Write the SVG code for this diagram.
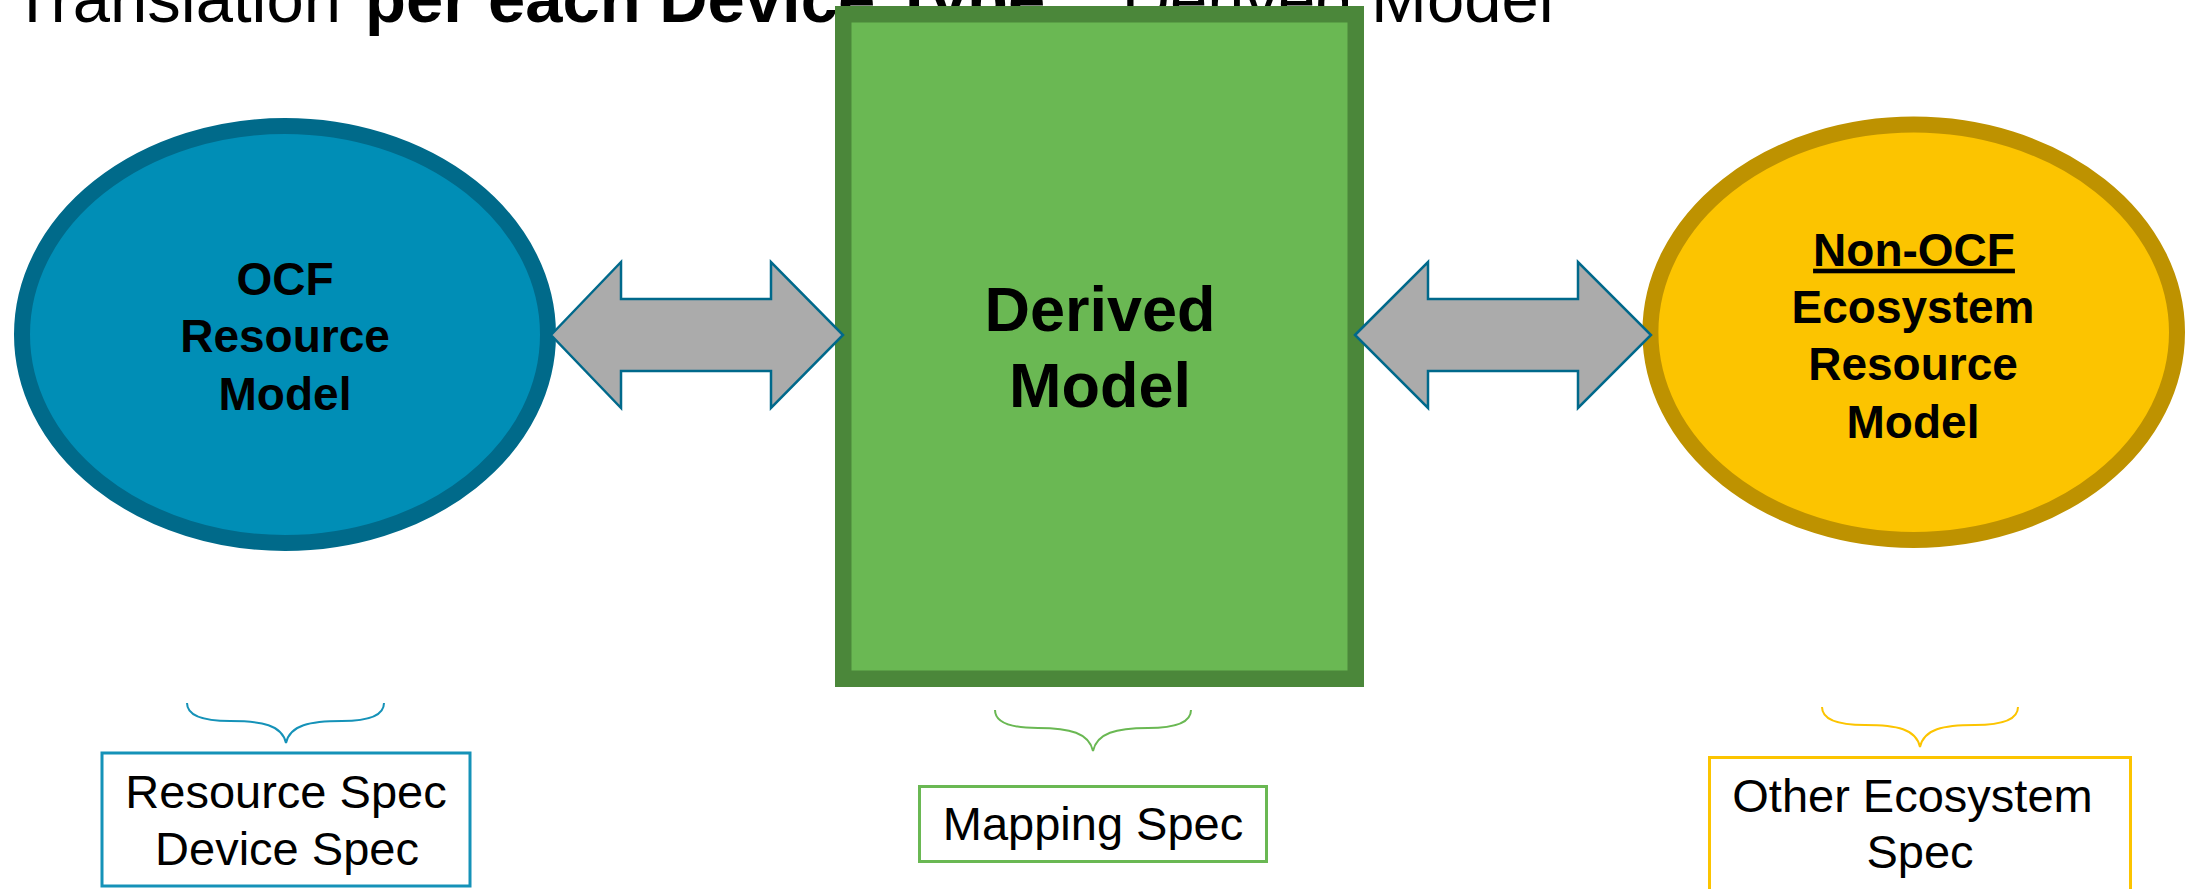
<svg xmlns="http://www.w3.org/2000/svg" width="2187" height="889" viewBox="0 0 2187 889">
  <style>
    .title { font-family: "Liberation Sans", Arial, sans-serif; font-size: 67px; fill: #000; }
    .b { font-weight: bold; }
    .node { font-family: "Liberation Sans", Arial, sans-serif; font-weight: bold; fill: #000; text-anchor: middle; }
    .spec { font-family: "Liberation Sans", Arial, sans-serif; font-size: 47px; fill: #000; text-anchor: middle; }
    .arrow { fill: #ABABAB; stroke: #00698B; stroke-width: 2.5; stroke-linejoin: miter; }
    .brace { fill: none; stroke-width: 2; }
  </style>
  <rect width="2187" height="889" fill="#FFFFFF"/>

  <g id="title">
    <text class="title" y="22"><tspan x="12">Translation </tspan><tspan class="b" x="365">per each Device Type</tspan><tspan> = Derived Model</tspan></text>
  </g>

  <g id="ocf-resource-model">
    <ellipse cx="285" cy="334.5" rx="263" ry="208.5" fill="#008EB6" stroke="#006A8A" stroke-width="16"/>
    <text class="node" font-size="46" x="285" y="295">OCF</text>
    <text class="node" font-size="46" x="285" y="352">Resource</text>
    <text class="node" font-size="46" x="285" y="410">Model</text>
  </g>

  <g id="derived-model">
    <rect x="843.25" y="14.25" width="512.5" height="664.5" fill="#6AB853" stroke="#4B873A" stroke-width="16.5"/>
    <text class="node" font-size="63" x="1100" y="331">Derived</text>
    <text class="node" font-size="63" x="1100" y="407">Model</text>
  </g>

  <g id="non-ocf-model">
    <ellipse cx="1913.7" cy="332.3" rx="263.3" ry="207.7" fill="#FCC400" stroke="#BE9200" stroke-width="16"/>
    <text class="node" font-size="46" x="1914" y="265.7" text-decoration="underline">Non-OCF</text>
    <text class="node" font-size="46" x="1913" y="322.7">Ecosystem</text>
    <text class="node" font-size="46" x="1913" y="380">Resource</text>
    <text class="node" font-size="46" x="1913" y="437.7">Model</text>
  </g>

  <g id="connectors">
    <polygon class="arrow" points="551,335 621,262 621,299 771,299 771,262 843,335 771,408 771,371 621,371 621,408"/>
    <polygon class="arrow" points="1355,335 1428,262 1428,299 1578,299 1578,262 1651,335 1578,408 1578,371 1428,371 1428,408"/>
  </g>

  <g id="resource-spec">
    <path class="brace" stroke="#1592B8" d="M187,703 C187,716 204,721 230,721 C262,721 282,725 286,743 C290,725 310,721 342,721 C368,721 384,716 384,703"/>
    <rect x="102" y="753" width="368" height="133" fill="#FFFFFF" stroke="#1592B8" stroke-width="3"/>
    <text class="spec" x="286" y="808">Resource Spec</text>
    <text class="spec" x="287" y="865">Device Spec</text>
  </g>

  <g id="mapping-spec">
    <path class="brace" stroke="#6AB853" d="M995,710 C995,723 1012,728 1038,728 C1070,728 1089,733 1093,751 C1097,733 1116,728 1148,728 C1174,728 1191,723 1191,710"/>
    <rect x="919.5" y="786.5" width="347" height="75" fill="#FFFFFF" stroke="#6AB853" stroke-width="3"/>
    <text class="spec" x="1093" y="840">Mapping Spec</text>
  </g>

  <g id="other-ecosystem-spec">
    <path class="brace" stroke="#FCC400" d="M1822,707 C1822,720 1839,725 1865,725 C1897,725 1916,729 1920,747 C1924,729 1943,725 1975,725 C2001,725 2018,720 2018,707"/>
    <rect x="1709.5" y="757.5" width="421" height="150" fill="#FFFFFF" stroke="#FCC400" stroke-width="3"/>
    <text class="spec" x="1912.5" y="811.7">Other Ecosystem</text>
    <text class="spec" x="1920" y="868">Spec</text>
  </g>
</svg>
